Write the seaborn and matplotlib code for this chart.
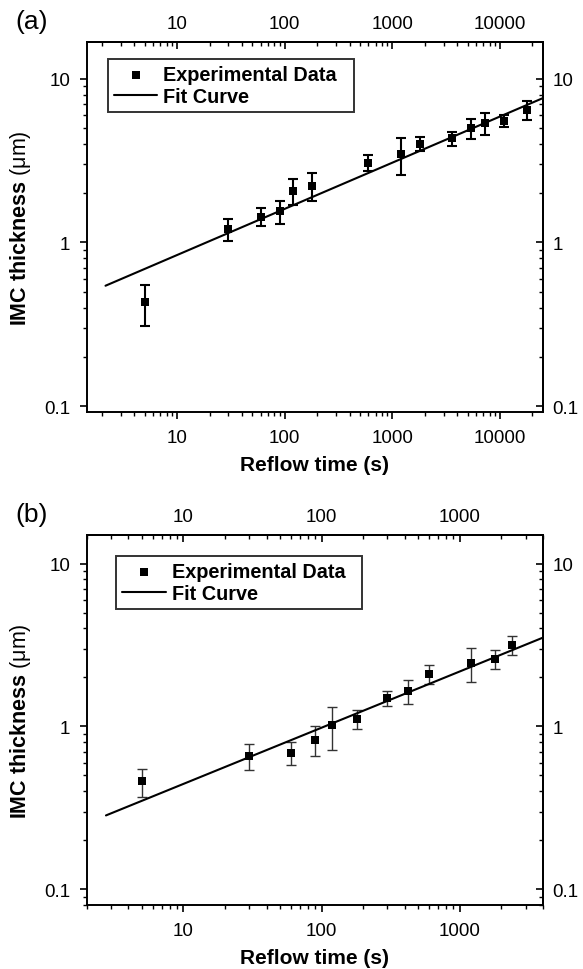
"""
plot.py
IMC thickness vs reflow time, two log-log panels with error bars and fit lines.
"""
import matplotlib
matplotlib.use('Agg')
import matplotlib.pyplot as plt
import matplotlib.ticker as mticker
import pandas as pd
import seaborn as sns

# Panel (a) data
time_a = [5, 30, 60, 90, 120, 180, 600, 1200, 1800, 3600, 5400, 7200, 10800, 18000]
imc_a  = [0.43, 1.21, 1.44, 1.55, 2.07, 2.21, 3.08, 3.46, 4.01, 4.32, 5.0, 5.36, 5.56, 6.46]
err_a  = [0.12, 0.19, 0.18, 0.25, 0.38, 0.43, 0.36, 0.88, 0.39, 0.43, 0.72, 0.85, 0.48, 0.85]
fit_time_a = [2.16, 25000]
fit_imc_a  = [0.544, 7.62]

# Panel (b) data
time_b = [5, 30, 60, 90, 120, 180, 300, 420, 600, 1200, 1800, 2400]
imc_b  = [0.46, 0.66, 0.69, 0.83, 1.02, 1.11, 1.49, 1.65, 2.11, 2.46, 2.59, 3.18]
err_b  = [0.09, 0.12, 0.11, 0.17, 0.30, 0.15, 0.15, 0.28, 0.29, 0.58, 0.34, 0.44]
fit_time_b = [2.75, 4000]
fit_imc_b  = [0.284, 3.51]

X_LABEL = 'Reflow time (s)'
Y_LABEL = r'IMC thickness $\mathrm{(\mu m)}$'
LEGEND_LABELS = ['Experimental Data  ', 'Fit Curve']

sns.set_theme(style='ticks')
plt.rcParams['font.family'] = ['Liberation Sans', 'DejaVu Sans']
plt.rcParams['mathtext.fontset'] = 'custom'
plt.rcParams['mathtext.rm'] = 'Liberation Sans'
plt.rcParams['mathtext.it'] = 'Liberation Sans:italic'
plt.rcParams['mathtext.bf'] = 'Liberation Sans:bold'
plt.rcParams['axes.linewidth'] = 1.4
for key in ('text.color', 'axes.labelcolor', 'xtick.color', 'ytick.color', 'axes.edgecolor'):
    plt.rcParams[key] = 'black'

TICK_FS = 13.5
LABEL_FS = 15
YLABEL_FS = 15.5
LEGEND_FS = 14.3

plain_fmt = mticker.FuncFormatter(lambda v, p: f'{v:g}')


def draw_panel(ax, t, h, e, ft, fh, xlim, ylim, legend_anchor, err_lw, err_color):
    ax.set_xscale('log')
    ax.set_yscale('log')

    ax.errorbar(t, h, yerr=e, fmt='none', ecolor=err_color, elinewidth=err_lw,
                capsize=3.4, capthick=err_lw, zorder=2)
    pts = pd.DataFrame({'time': t, 'imc': h})
    fit = pd.DataFrame({'time': ft, 'imc': fh})
    sns.scatterplot(data=pts, x='time', y='imc', marker='s', s=40, color='black',
                    edgecolor='black', linewidth=0, label=LEGEND_LABELS[0],
                    ax=ax, zorder=3)
    sns.lineplot(data=fit, x='time', y='imc', color='black', linewidth=1.5,
                 label=LEGEND_LABELS[1], ax=ax, zorder=2.5)

    ax.set_xlim(*xlim)
    ax.set_ylim(*ylim)

    # bottom / left ticks point outward
    ax.tick_params(which='major', direction='out', length=5, width=1.2,
                   labelsize=TICK_FS, pad=7, colors='black')
    ax.tick_params(which='minor', direction='out', length=3, width=1.0)
    for a in (ax.xaxis, ax.yaxis):
        a.set_major_formatter(plain_fmt)
        a.set_minor_formatter(mticker.NullFormatter())

    # top / right ticks point inward, with labels
    top = ax.secondary_xaxis('top')
    right = ax.secondary_yaxis('right')
    for sec, axis_obj in ((top, top.xaxis), (right, right.yaxis)):
        sec.tick_params(which='major', direction='in', length=5, width=1.2,
                        labelsize=TICK_FS, pad=7, colors='black')
        sec.tick_params(which='minor', direction='in', length=3, width=1.0)
        axis_obj.set_major_formatter(plain_fmt)
        axis_obj.set_minor_formatter(mticker.NullFormatter())
        for sp in sec.spines.values():
            sp.set_linewidth(1.4)

    ax.set_xlabel(X_LABEL, fontsize=LABEL_FS, fontweight='bold', labelpad=7)
    ax.set_ylabel(Y_LABEL, fontsize=YLABEL_FS, fontweight='bold', labelpad=8)

    leg = ax.legend(loc='upper left', bbox_to_anchor=legend_anchor, borderaxespad=0,
                    frameon=True, fancybox=False, edgecolor='black',
                    prop={'size': LEGEND_FS, 'weight': 'bold'},
                    handlelength=2.2, handletextpad=0.3, labelspacing=0.15,
                    borderpad=0.3, scatterpoints=1)
    leg.get_frame().set_linewidth(1.4)
    for sp in ax.spines.values():
        sp.set_color('black')
        sp.set_linewidth(1.4)


fig = plt.figure(figsize=(5.83, 9.70), dpi=100)
ax_a = fig.add_axes([0.149, 0.5742, 0.782, 0.3815])
ax_b = fig.add_axes([0.149, 0.0660, 0.782, 0.3814])

draw_panel(ax_a, time_a, imc_a, err_a, fit_time_a, fit_imc_a,
           (1.45, 25000), (0.092, 16.8), (0.046, 0.954), 1.5, 'black')
draw_panel(ax_b, time_b, imc_b, err_b, fit_time_b, fit_imc_b,
           (2, 4000), (0.08, 15), (0.064, 0.943), 1.0, '#333333')

fig.text(32 / 583, 1 - 22 / 970, '(a)', fontsize=19, ha='center', va='center')
fig.text(32 / 583, 1 - 515 / 970, '(b)', fontsize=19, ha='center', va='center')

fig.savefig('out.png', dpi=100)
plt.close(fig)
